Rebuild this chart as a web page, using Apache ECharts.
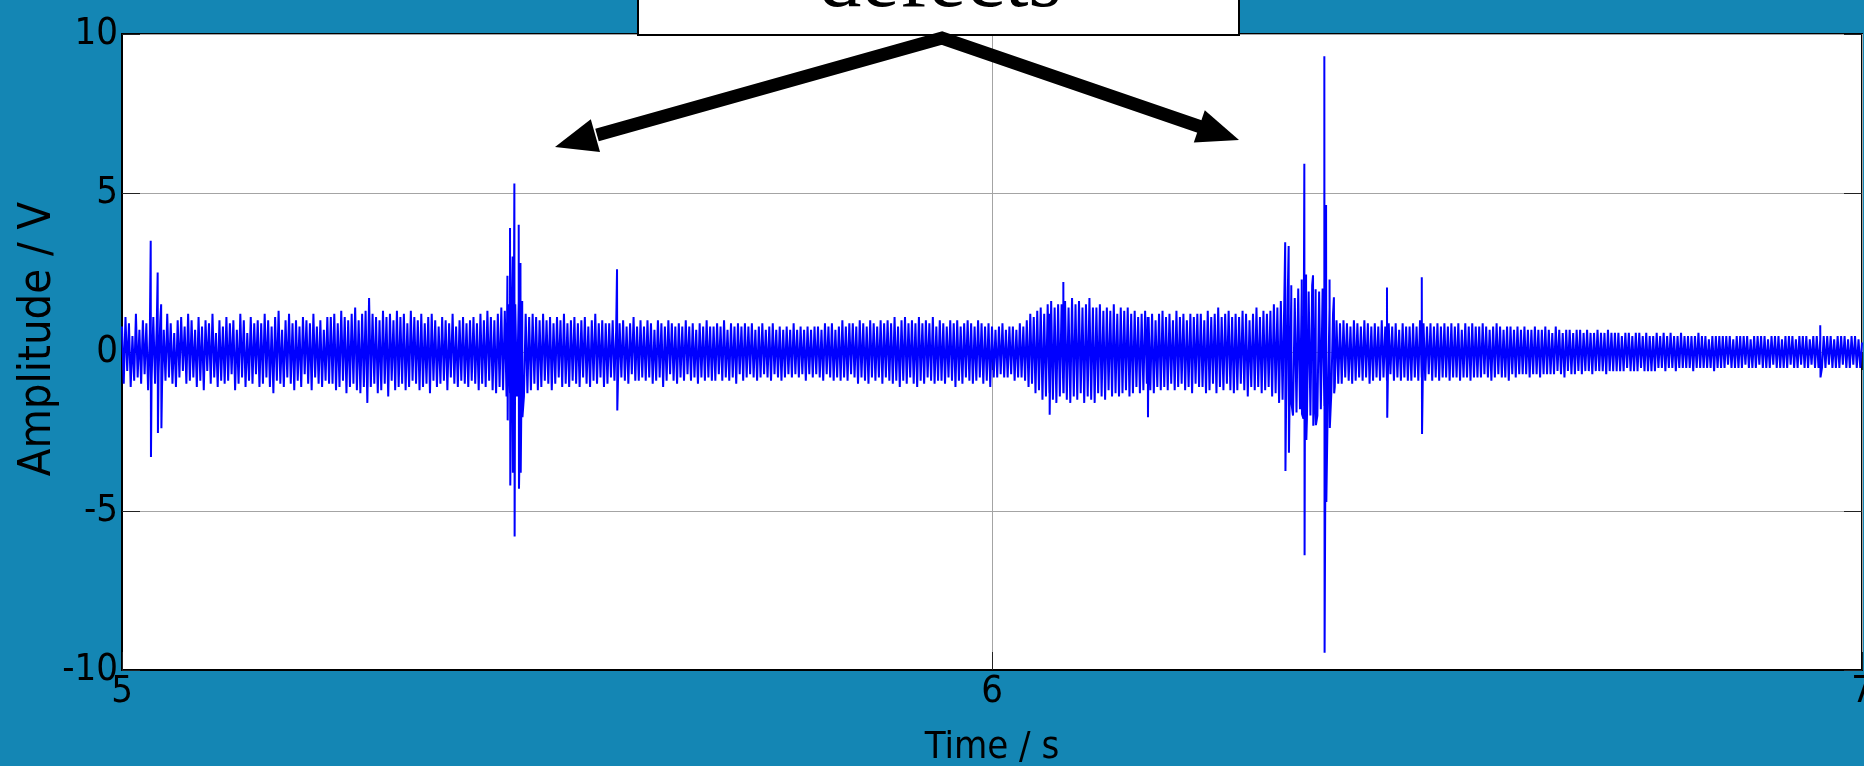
<!DOCTYPE html>
<html><head><meta charset="utf-8">
<script src="https://cdn.jsdelivr.net/npm/echarts@6/dist/echarts.min.js"></script>
<style>html,body{margin:0;padding:0;background:#1486b4;overflow:hidden}#c{width:1864px;height:766px}</style>
</head><body><div id="c"></div>
<script>
// sampling of the vibration record
const t0 = 5, dt = 0.002;
// band values, 5.00 s - 5.40 s
const bandA = [
0.8,-1.0,1.1,-0.6,0.9,-1.1,0.5,-0.9,1.2,-0.8,0.7,-1.0,1.0,-0.7,0.9,-1.2,0.6,-0.9,1.1,-1.0,
0.9,-0.7,1.0,-1.1,0.7,-0.9,1.2,-0.8,0.9,-1.0,0.6,-1.1,1.0,-0.8,1.1,-0.6,0.8,-1.0,1.2,-0.9,
1.0,-0.8,0.7,-1.1,1.1,-0.9,0.8,-1.2,1.0,-0.6,0.9,-1.0,1.2,-0.8,0.6,-1.1,1.0,-0.9,0.8,-1.0,
1.1,-0.9,0.9,-0.7,1.0,-1.2,0.7,-1.0,1.2,-0.8,1.0,-1.1,0.6,-0.9,1.1,-1.0,0.9,-0.7,1.0,-1.1,
0.9,-1.0,1.2,-0.8,1.0,-1.1,0.8,-1.3,1.1,-0.9,1.3,-1.0,0.7,-1.1,1.0,-0.8,1.2,-1.0,0.9,-1.2,
1.0,-0.9,0.8,-1.1,1.1,-0.7,1.0,-1.0,0.9,-1.2,1.2,-0.8,0.8,-1.0,1.0,-1.1,0.7,-0.9,1.1,-1.0,
1.1,-1.0,1.2,-1.2,0.9,-1.1,1.3,-0.9,1.1,-1.3,1.0,-1.1,1.2,-1.0,1.4,-1.2,1.0,-1.3,1.2,-1.1,
1.3,-1.6,1.7,-1.1,1.2,-1.0,1.1,-1.3,1.0,-1.2,1.3,-1.0,1.1,-1.4,1.2,-0.9,1.0,-1.2,1.3,-1.1,
1.1,-1.0,1.2,-1.2,0.9,-1.1,1.3,-0.9,1.1,-1.0,1.0,-1.2,1.2,-1.1,0.9,-1.0,1.1,-1.3,1.2,-0.9,
1.0,-1.1,0.8,-1.0,1.1,-0.9,1.0,-1.2,0.9,-0.8,1.2,-1.0,0.8,-1.1,1.0,-0.9,1.1,-1.0,0.9,-1.1];
// 5.40 s - 5.80 s
const bandB = [
1.0,-0.9,1.1,-1.0,0.9,-1.2,1.2,-1.0,1.0,-1.1,1.3,-0.9,1.1,-1.2,1.0,-1.3,1.2,-1.1,1.4,-1.2,
1.3,-1.4,1.5,-1.3,1.4,-1.6,1.5,-1.4,1.6,-1.5,1.3,-1.4,1.2,-1.3,1.1,-1.2,1.2,-1.0,1.1,-1.2,
1.0,-1.1,1.2,-0.9,1.0,-1.0,1.1,-1.2,0.9,-1.0,1.1,-0.8,1.0,-1.1,1.2,-1.0,0.9,-1.1,1.0,-0.9,
1.1,-1.0,0.9,-1.1,1.0,-0.8,1.1,-1.0,0.8,-1.1,1.0,-0.9,1.2,-1.0,0.9,-0.8,1.0,-1.1,0.9,-1.0,
0.9,-0.8,1.0,-0.9,0.7,-1.0,0.9,-0.8,1.0,-0.9,0.8,-1.0,0.9,-0.7,1.1,-0.9,0.8,-0.9,1.0,-0.8,
0.8,-0.9,1.0,-0.8,0.9,-1.0,0.7,-0.9,1.0,-0.8,0.9,-1.1,0.8,-0.9,1.0,-0.7,0.9,-0.9,0.8,-1.0,
0.9,-0.8,0.8,-0.9,1.0,-0.7,0.8,-0.9,0.9,-0.8,0.7,-1.0,0.9,-0.8,0.8,-0.9,1.0,-0.8,0.8,-0.9,
0.8,-0.9,0.9,-0.7,0.8,-0.9,1.0,-0.8,0.7,-0.9,0.9,-0.8,0.8,-1.0,0.9,-0.7,0.8,-0.9,0.9,-0.8,
0.8,-0.7,0.9,-0.8,0.7,-0.9,0.8,-0.8,0.9,-0.7,0.7,-0.8,0.8,-0.9,0.9,-0.7,0.7,-0.8,0.8,-0.9,
0.7,-0.8,0.8,-0.7,0.7,-0.8,0.9,-0.7,0.7,-0.8,0.8,-0.7,0.7,-0.9,0.8,-0.7,0.7,-0.8,0.8,-0.7];
// 5.80 s - 6.20 s
const bandC = [
0.8,-0.8,0.7,-0.9,0.9,-0.7,0.8,-0.8,0.9,-0.9,0.7,-0.8,0.8,-0.9,1.0,-0.8,0.8,-0.9,0.9,-0.7,
0.9,-0.8,0.8,-1.0,1.0,-0.8,0.9,-0.9,0.8,-1.0,1.0,-0.8,0.9,-0.9,0.8,-0.8,1.0,-1.0,0.9,-0.8,
1.0,-0.9,0.9,-1.0,1.1,-0.9,0.8,-1.1,1.0,-0.9,1.1,-1.0,0.9,-0.8,1.0,-1.0,0.9,-1.1,1.1,-0.9,
0.9,-1.0,1.0,-0.8,0.9,-0.9,1.1,-1.0,0.8,-0.9,1.0,-0.9,0.9,-1.0,0.8,-0.8,1.0,-0.9,0.9,-1.1,
1.0,-0.9,0.8,-1.0,0.9,-0.8,1.0,-0.9,0.9,-1.0,0.8,-0.9,1.0,-0.8,0.9,-1.0,0.8,-0.9,0.9,-1.1,
0.8,-0.8,0.7,-0.8,0.8,-0.7,0.9,-0.8,0.7,-0.8,0.8,-0.7,0.8,-0.9,0.7,-0.8,0.9,-0.8,0.8,-0.9,
1.0,-1.1,1.2,-1.0,1.1,-1.3,1.3,-1.2,1.4,-1.5,1.2,-1.4,1.5,-1.3,1.6,-1.5,1.4,-1.6,1.5,-1.4,
1.5,-1.3,1.6,-1.5,1.4,-1.6,1.7,-1.4,1.5,-1.5,1.6,-1.3,1.4,-1.6,1.5,-1.4,1.7,-1.5,1.4,-1.6,
1.4,-1.3,1.5,-1.4,1.3,-1.5,1.4,-1.2,1.3,-1.4,1.5,-1.3,1.2,-1.4,1.4,-1.3,1.3,-1.2,1.4,-1.4,
1.2,-1.3,1.3,-1.1,1.1,-1.3,1.2,-1.2,1.3,-1.0,1.1,-1.2,1.2,-1.3,1.0,-1.1,1.2,-1.2,1.3,-1.1];
// 6.20 s - 6.60 s
const bandD = [
1.1,-1.2,1.2,-1.0,1.0,-1.2,1.3,-1.1,1.1,-1.0,1.2,-1.2,1.0,-1.1,1.2,-1.3,1.1,-1.0,1.2,-1.1,
1.2,-1.1,1.0,-1.3,1.3,-1.2,1.1,-1.0,1.2,-1.3,1.4,-1.1,1.1,-1.2,1.2,-1.0,1.3,-1.2,1.1,-1.3,
1.2,-1.2,1.1,-1.0,1.3,-1.2,1.2,-1.4,1.0,-1.1,1.2,-1.2,1.4,-1.1,1.1,-1.3,1.3,-1.2,1.2,-1.1,
1.3,-1.4,1.5,-1.3,1.4,-1.6,1.6,-1.5,1.7,-1.8,1.9,-1.7,1.8,-2.0,1.7,-1.9,2.0,-1.8,1.9,-2.1,
2.0,-2.1,1.9,-2.0,2.1,-1.9,1.8,-2.0,1.9,-1.8,2.0,-1.7,1.6,-1.5,1.4,-1.3,1.2,-1.1,1.0,-1.0,
0.9,-1.0,1.0,-0.8,0.9,-0.9,0.8,-1.0,1.0,-0.9,0.9,-0.8,0.8,-0.9,1.0,-0.8,0.9,-1.0,0.8,-0.9,
0.9,-0.8,0.8,-0.9,1.0,-0.8,0.8,-0.9,0.9,-0.7,0.8,-0.9,0.9,-0.8,0.7,-0.9,0.9,-0.8,0.8,-0.9,
0.8,-0.9,0.9,-0.8,0.8,-0.9,1.0,-0.8,0.9,-0.9,0.8,-0.7,0.9,-0.9,0.8,-0.8,0.9,-0.9,0.8,-0.8,
0.9,-0.8,0.8,-0.9,0.9,-0.8,0.8,-0.8,0.9,-0.9,0.7,-0.8,0.9,-0.8,0.8,-0.9,0.9,-0.8,0.8,-0.8,
0.8,-0.8,0.9,-0.7,0.8,-0.8,0.7,-0.9,0.8,-0.8,0.9,-0.7,0.8,-0.8,0.7,-0.8,0.8,-0.9,0.8,-0.7];
// 6.60 s - 7.00 s
const bandE = [
0.7,-0.8,0.8,-0.7,0.7,-0.7,0.8,-0.7,0.7,-0.8,0.7,-0.7,0.8,-0.7,0.7,-0.8,0.7,-0.7,0.8,-0.7,
0.7,-0.7,0.6,-0.7,0.8,-0.6,0.7,-0.7,0.6,-0.8,0.7,-0.6,0.7,-0.7,0.6,-0.7,0.7,-0.6,0.7,-0.7,
0.6,-0.6,0.7,-0.6,0.6,-0.7,0.6,-0.6,0.7,-0.6,0.6,-0.6,0.6,-0.7,0.7,-0.6,0.6,-0.6,0.6,-0.6,
0.6,-0.6,0.5,-0.6,0.6,-0.5,0.6,-0.6,0.5,-0.6,0.6,-0.6,0.6,-0.5,0.5,-0.6,0.6,-0.6,0.5,-0.6,
0.5,-0.6,0.6,-0.5,0.5,-0.5,0.6,-0.6,0.5,-0.5,0.6,-0.5,0.5,-0.6,0.5,-0.5,0.6,-0.5,0.5,-0.5,
0.5,-0.5,0.5,-0.6,0.5,-0.5,0.6,-0.5,0.5,-0.5,0.5,-0.5,0.4,-0.5,0.5,-0.6,0.5,-0.5,0.5,-0.5,
0.5,-0.5,0.5,-0.4,0.5,-0.5,0.4,-0.5,0.5,-0.5,0.5,-0.5,0.5,-0.4,0.5,-0.5,0.4,-0.5,0.5,-0.5,
0.5,-0.4,0.5,-0.5,0.5,-0.5,0.4,-0.5,0.5,-0.4,0.5,-0.5,0.5,-0.5,0.4,-0.5,0.5,-0.5,0.5,-0.4,
0.5,-0.5,0.4,-0.5,0.5,-0.4,0.5,-0.5,0.5,-0.5,0.4,-0.4,0.5,-0.5,0.5,-0.5,0.4,-0.5,0.5,-0.5,
0.5,-0.4,0.5,-0.5,0.4,-0.5,0.5,-0.5,0.5,-0.4,0.5,-0.5,0.4,-0.5,0.5,-0.4,0.5,-0.5,0.4,-0.5,0.3];
// impulses: [time s, positive peak V, negative peak V]
const spikes = [
[5.033,3.5,-3.3],[5.041,2.5,-2.55],[5.045,1.5,-2.4],
[5.443,2.4,-2.15],[5.446,3.9,-4.2],[5.449,3.0,-3.8],[5.451,5.3,-5.8],[5.456,4.0,-4.3],[5.458,2.8,-3.8],[5.460,1.6,-2.05],
[5.569,2.6,-1.84],
[6.066,1.2,-1.97],[6.082,2.2,-1.3],[6.179,1.1,-2.05],
[6.337,3.45,-3.74],[6.341,3.33,-3.17],[6.344,2.1,-1.63],[6.356,2.28,-1.95],[6.359,5.92,-6.39],[6.361,2.44,-2.77],
[6.369,2.41,-2.32],[6.372,1.97,-2.3],[6.382,9.3,-9.46],[6.384,4.62,-4.72],[6.388,2.28,-2.39],[6.393,1.72,-1.3],
[6.454,2.03,-2.07],[6.494,2.35,-2.58],[6.952,0.84,-0.8]];
const xTicks = [5, 6, 7];
const yTicks = [-10, -5, 0, 5, 10];
const xName = 'Time / s', yName = 'Amplitude / V', note = 'defects';

const band = [].concat(bandA, bandB, bandC, bandD, bandE);
const pts = band.map((v, i) => [t0 + i * dt, v]);
spikes.forEach(([t, u, d]) => { pts.push([t, u]); pts.push([t + 0.0003, d]); });
pts.sort((a, b) => a[0] - b[0]);

const FONT = '"DejaVu Sans Condensed", "Liberation Sans", sans-serif';
const FS = 38;
const chart = echarts.init(document.getElementById('c'), null, {renderer: 'canvas'});
const gridLine = {show: true, lineStyle: {color: '#a4a4a4', width: 1}};
const tick = {show: true, inside: true, length: 18, lineStyle: {color: '#222'}};
chart.setOption({
  animation: false,
  backgroundColor: '#1486b4',
  grid: {left: 122, right: 2, top: 34, bottom: 96, show: true, backgroundColor: '#ffffff',
         borderColor: '#000', borderWidth: 2, containLabel: false, outerBoundsMode: 'none'},
  xAxis: [{
    type: 'value', min: xTicks[0], max: xTicks[xTicks.length - 1], interval: 1,
    name: xName, nameLocation: 'middle', nameGap: 59,
    nameTextStyle: {fontSize: FS, color: '#000', fontFamily: FONT},
    axisLine: {show: true, onZero: false, lineStyle: {color: '#000', width: 2}},
    axisTick: tick,
    axisLabel: {fontSize: FS, color: '#000', fontFamily: FONT, margin: 3, showMinLabel: true, showMaxLabel: true},
    splitLine: gridLine
  }, {
    type: 'value', position: 'top', min: xTicks[0], max: xTicks[xTicks.length - 1], interval: 1,
    axisLine: {show: false}, axisLabel: {show: false}, splitLine: {show: false}, axisTick: tick
  }],
  yAxis: [{
    type: 'value', min: yTicks[0], max: yTicks[yTicks.length - 1], interval: 5,
    name: yName, nameLocation: 'middle', nameGap: 61, nameRotate: 90, nameMoveOverlap: false,
    nameTextStyle: {fontSize: 45, color: '#000', fontFamily: FONT, padding: [0, 0, 0, 26]},
    axisLine: {show: true, onZero: false, lineStyle: {color: '#000', width: 2}},
    axisTick: tick,
    axisLabel: {fontSize: FS, color: '#000', fontFamily: FONT, margin: 4, showMinLabel: true, showMaxLabel: true},
    splitLine: gridLine
  }, {
    type: 'value', position: 'right', min: yTicks[0], max: yTicks[yTicks.length - 1], interval: 5,
    axisLine: {show: false}, axisLabel: {show: false}, splitLine: {show: false}, axisTick: tick
  }],
  series: [{
    type: 'line', data: pts, xAxisIndex: 0, yAxisIndex: 0,
    showSymbol: false, symbol: 'none', sampling: null, clip: true,
    lineStyle: {color: '#0000ff', width: 2}, z: 3
  }],
  graphic: [
    {type: 'rect', z: 100, shape: {x: 638, y: -20, width: 601, height: 55},
     style: {fill: '#fff', stroke: '#000', lineWidth: 2}},
    {type: 'text', z: 101, style: {x: 940, y: -17, text: note, fill: '#000',
     font: '86px "Liberation Serif", "Times New Roman", serif', textAlign: 'center', textVerticalAlign: 'middle'}},
    {type: 'polyline', z: 102, shape: {points: [[597, 135], [942, 38], [1201, 127]]},
     style: {stroke: '#000', lineWidth: 13, lineJoin: 'miter', fill: null}},
    {type: 'polygon', z: 102, shape: {points: [[555, 147], [590.8, 119.2], [600, 152]]}, style: {fill: '#000'}},
    {type: 'polygon', z: 102, shape: {points: [[1239, 140], [1193.8, 142.5], [1204.8, 110.3]]}, style: {fill: '#000'}}
  ]
});
</script></body></html>
